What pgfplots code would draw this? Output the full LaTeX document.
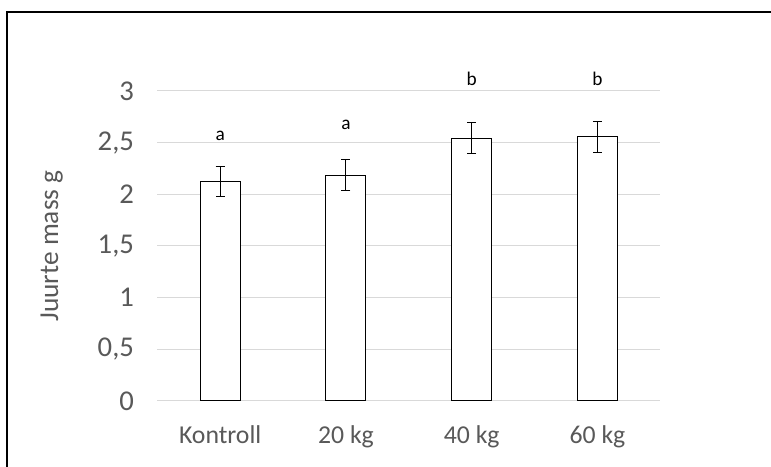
\documentclass[border=0pt]{standalone}
\usepackage{pgfplots}
\pgfplotsset{compat=1.18}
\usepackage{fontspec}
\setmainfont{Carlito}
\definecolor{txtgray}{HTML}{595959}
\definecolor{gridgray}{HTML}{D9D9D9}
\begin{document}
\begin{tikzpicture}
\useasboundingbox (0,0) rectangle (578.25pt,350.25pt);
\fill[white] (0,0) rectangle (578.25pt,350.25pt);
\draw[line width=1.5pt] (5.1pt,0pt) -- (5.1pt,341pt) -- (578.25pt,341pt);
\begin{axis}[
  at={(118pt,49.5pt)}, anchor=south west,
  scale only axis, width=377.25pt, height=232.5pt,
  xmin=-0.5, xmax=3.5, ymin=0, ymax=3,
  ybar, bar width=30pt,
  /pgf/number format/assume math mode=true,
  xtick={0,1,2,3},
  xticklabels={Kontroll,20 kg,40 kg,60 kg},
  ytick={0,0.5,1,1.5,2,2.5,3},
  yticklabels={0,{0,5},1,{1,5},2,{2,5},3},
  ymajorgrids, grid style={gridgray, line width=0.75pt},
  axis x line*=bottom, axis y line*=left,
  x axis line style={gridgray, line width=0.75pt, -},
  y axis line style={draw=none},
  major tick length=0pt,
  xticklabel style={font=\fontsize{19.3}{23}\selectfont, text=txtgray, yshift=-15pt},
  yticklabel style={font=\fontsize{21.5}{25}\selectfont, text=txtgray, xshift=-14pt},
  ylabel={Juurte mass g},
  every axis y label/.style={at={(axis description cs:-0.21,0.5)}, rotate=90, anchor=center, font=\fontsize{20.5}{24}\selectfont, text=txtgray},
  clip=false,
]
\addplot[draw=black, fill=white, line width=0.75pt,
  error bars/.cd, y dir=both, y explicit,
  error bar style={black, line width=0.75pt},
  error mark options={rotate=90, mark size=3.4pt, line width=0.75pt, black}]
  table[x=x, y=y, y error=e] {
x y e
0 2.125 0.145
1 2.185 0.150
2 2.545 0.150
3 2.555 0.148
};
\node[font=\fontsize{14.5}{17}\selectfont] at (axis cs:0,2.57) {a};
\node[font=\fontsize{14.5}{17}\selectfont] at (axis cs:1,2.67) {a};
\node[font=\fontsize{14.5}{17}\selectfont] at (axis cs:2,3.12) {b};
\node[font=\fontsize{14.5}{17}\selectfont] at (axis cs:3,3.12) {b};
\end{axis}
\end{tikzpicture}
\end{document}
